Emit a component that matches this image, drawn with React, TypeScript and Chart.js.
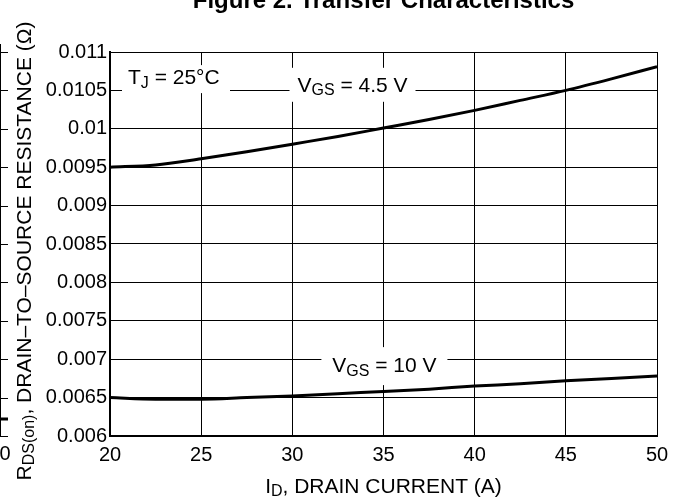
import React, { useEffect, useRef } from "react";
import { Chart, registerables } from "chart.js";

Chart.register(...registerables);

const drainCurrentA = [20, 22.5, 25, 27.5, 30, 32.5, 35, 37.5, 40, 42.5, 45, 47.5, 50];
const rdsVgs45 = [0.0095, 0.00953, 0.00961, 0.0097, 0.0098, 0.0099, 0.01001, 0.01012, 0.01024, 0.01037, 0.0105, 0.01065, 0.01081];
const rdsVgs10 = [0.0065, 0.00648, 0.00648, 0.0065, 0.00652, 0.00655, 0.00658, 0.00661, 0.00665, 0.00668, 0.00672, 0.00675, 0.00678];
const yTickValues = [0.006, 0.0065, 0.007, 0.0075, 0.008, 0.0085, 0.009, 0.0095, 0.01, 0.0105, 0.011];
const yTickLabels = ["0.006", "0.0065", "0.007", "0.0075", "0.008", "0.0085", "0.009", "0.0095", "0.01", "0.0105", "0.011"];
const xTickValues = [20, 25, 30, 35, 40, 45, 50];
const xTickLabels = ["20", "25", "30", "35", "40", "45", "50"];

const FONT = "'Liberation Sans', Arial, Helvetica, sans-serif";

type Part = { t: string; sub?: boolean };

function richWidth(ctx: CanvasRenderingContext2D, parts: Part[], size: number, subSize: number) {
  let w = 0;
  for (const p of parts) {
    ctx.font = `${p.sub ? subSize : size}px ${FONT}`;
    w += ctx.measureText(p.t).width;
  }
  return w;
}

function drawRich(ctx: CanvasRenderingContext2D, parts: Part[], cx: number, cy: number, size: number, subSize: number, subOffset: number) {
  const w = richWidth(ctx, parts, size, subSize);
  let x = cx - w / 2;
  ctx.textBaseline = "middle";
  ctx.textAlign = "left";
  for (const p of parts) {
    ctx.font = `${p.sub ? subSize : size}px ${FONT}`;
    ctx.fillText(p.t, x, cy + (p.sub ? subOffset : 0));
    x += ctx.measureText(p.t).width;
  }
  return w;
}

const annotPlugin = {
  id: "annot",
  afterDatasetsDraw(chart: any) {
    const ctx: CanvasRenderingContext2D = chart.ctx;
    const xs = chart.scales.x;
    const ys = chart.scales.y;
    ctx.save();
    ctx.fillStyle = "#000";

    const box = (x0: number, y0: number, x1: number, y1: number) => {
      ctx.fillStyle = "#fff";
      ctx.fillRect(x0, y0, x1 - x0, y1 - y0);
      ctx.fillStyle = "#000";
    };

    // T_J label
    const tjX = xs.getPixelForValue(23.5);
    const tjY = ys.getPixelForValue(0.01066);
    box(xs.left + 12, tjY - 13, xs.left + 120, tjY + 15);
    drawRich(ctx, [{ t: "T" }, { t: "J", sub: true }, { t: " = 25°C" }], tjX, tjY, 21, 16, 5);

    // VGS = 4.5 V
    const v45X = xs.getPixelForValue(33.3);
    const v45Y = ys.getPixelForValue(0.01056);
    box(v45X - 63, v45Y - 18, v45X + 63, v45Y + 16);
    drawRich(ctx, [{ t: "V" }, { t: "GS", sub: true }, { t: " = 4.5 V" }], v45X, v45Y, 21, 16, 5);

    // VGS = 10 V
    const v10X = xs.getPixelForValue(35.05);
    const v10Y = ys.getPixelForValue(0.00691);
    box(v10X - 63, v10Y - 19, v10X + 63, v10Y + 19);
    drawRich(ctx, [{ t: "V" }, { t: "GS", sub: true }, { t: " = 10 V" }], v10X, v10Y, 21, 16, 5);

    ctx.restore();
  },
  afterDraw(chart: any) {
    const ctx: CanvasRenderingContext2D = chart.ctx;
    const xs = chart.scales.x;
    const ys = chart.scales.y;
    ctx.save();
    ctx.fillStyle = "#000";

    // Title (cropped at top of page)
    ctx.font = `bold 24px ${FONT}`;
    ctx.textAlign = "center";
    ctx.textBaseline = "alphabetic";
    ctx.fillText("Figure 2. Transfer Characteristics", (xs.left + xs.right) / 2, 8);

    // X axis title
    drawRich(ctx, [{ t: "I" }, { t: "D", sub: true }, { t: ", DRAIN CURRENT (A)" }], (xs.left + xs.right) / 2, 487, 21, 16, 5);

    // Y axis title (rotated)
    ctx.save();
    ctx.translate(25, 251);
    ctx.rotate(-Math.PI / 2);
    drawRich(ctx, [{ t: "R" }, { t: "DS(on)", sub: true }, { t: ", DRAIN–TO–SOURCE RESISTANCE (Ω)" }], 0, 0, 21, 16, 5);
    ctx.restore();

    // Remnant of neighbouring figure at the left edge
    ctx.strokeStyle = "#000";
    ctx.lineWidth = 1;
    ctx.beginPath();
    ctx.moveTo(0.5, ys.top - 8);
    ctx.lineTo(0.5, ys.bottom + 1);
    for (const v of yTickValues) {
      const py = Math.round(ys.getPixelForValue(v)) + 0.5;
      ctx.moveTo(0, py);
      ctx.lineTo(8, py);
    }
    ctx.stroke();
    ctx.lineWidth = 3;
    ctx.beginPath();
    ctx.moveTo(0, ys.bottom - 17);
    ctx.lineTo(8, ys.bottom - 17);
    ctx.stroke();
    ctx.font = `20px ${FONT}`;
    ctx.textAlign = "center";
    ctx.textBaseline = "middle";
    ctx.fillText("0", 5, 454);

    ctx.restore();
  },
};

export default function App() {
  const ref = useRef<HTMLCanvasElement | null>(null);

  useEffect(() => {
    document.body.style.margin = "0";
    const canvas = ref.current;
    if (!canvas) return;
    const chart = new Chart(canvas, {
      type: "line",
      data: {
        labels: drainCurrentA,
        datasets: [
          {
            label: "VGS = 4.5 V",
            data: drainCurrentA.map((x, i) => ({ x, y: rdsVgs45[i] })),
            borderColor: "#000",
            borderWidth: 3,
            pointRadius: 0,
            fill: false,
            cubicInterpolationMode: "monotone",
          },
          {
            label: "VGS = 10 V",
            data: drainCurrentA.map((x, i) => ({ x, y: rdsVgs10[i] })),
            borderColor: "#000",
            borderWidth: 3,
            pointRadius: 0,
            fill: false,
            cubicInterpolationMode: "monotone",
          },
        ],
      },
      options: {
        responsive: false,
        animation: false,
        devicePixelRatio: 1,
        layout: { padding: { top: 52, right: 19, left: 0, bottom: 0 } },
        plugins: {
          legend: { display: false },
          tooltip: { enabled: false },
          title: { display: false },
        },
        scales: {
          x: {
            type: "linear",
            min: 20,
            max: 50,
            afterBuildTicks: (scale: any) => {
              scale.ticks = xTickValues.map((v) => ({ value: v }));
            },
            afterFit: (scale: any) => {
              scale.height = 68;
            },
            ticks: {
              color: "#000",
              font: { family: FONT, size: 20 },
              padding: 7,
              maxRotation: 0,
              autoSkip: false,
              callback: (_v: any, i: number) => xTickLabels[i],
            },
            grid: { color: "#000", lineWidth: 1, drawTicks: false },
            border: { display: true, color: "#000", width: 2 },
          },
          y: {
            type: "linear",
            min: 0.006,
            max: 0.011,
            afterBuildTicks: (scale: any) => {
              scale.ticks = yTickValues.map((v) => ({ value: v }));
            },
            afterFit: (scale: any) => {
              scale.width = 110;
            },
            ticks: {
              color: "#000",
              font: { family: FONT, size: 20 },
              padding: 3,
              autoSkip: false,
              callback: (_v: any, i: number) => yTickLabels[i],
            },
            grid: { color: "#000", lineWidth: 1, drawTicks: false },
            border: { display: true, color: "#000", width: 2 },
          },
        },
      },
      plugins: [annotPlugin],
    } as any);
    return () => chart.destroy();
  }, []);

  return (
    <div style={{ position: "fixed", left: 0, top: 0, width: 676, height: 504, background: "#fff" }}>
      <canvas ref={ref} width={676} height={504} style={{ display: "block", width: 676, height: 504 }} />
    </div>
  );
}
